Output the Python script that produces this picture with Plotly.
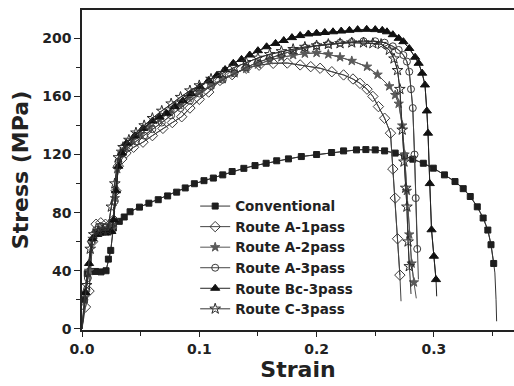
import plotly.graph_objects as go

# ---------------- data ----------------
conv_strain = [0, 0.002, 0.0045, 0.0068, 0.0115, 0.0162, 0.0205, 0.0225, 0.0245, 0.0267,
               0.0318, 0.036, 0.041, 0.049, 0.057, 0.065, 0.073, 0.0807, 0.088, 0.0958,
               0.104, 0.112, 0.120, 0.128, 0.138, 0.1475, 0.157, 0.166, 0.176, 0.187,
               0.200, 0.2128, 0.223, 0.234, 0.242, 0.250, 0.258, 0.267, 0.275, 0.282,
               0.291, 0.2995, 0.309, 0.318, 0.325, 0.331, 0.337, 0.342, 0.346, 0.3487,
               0.351, 0.352, 0.353, 0.3535]
conv_stress = [0, 20, 38, 39.4, 39.5, 39.2, 40, 48, 54, 69.4,
               74, 77, 80.6, 83.8, 86.5, 88.9, 91.5, 94.1, 97, 99.9,
               102, 103.8, 106, 108.3, 110.5, 112.4, 114, 115.7, 117, 118.6,
               120, 121.4, 122.5, 123.2, 123.4, 123.2, 122.5, 121, 119, 116.8,
               114, 110.6, 106, 101.4, 96.5, 91.1, 84, 76.3, 68, 57.9,
               45, 38.5, 20, 5.2]

a1_strain = [0, 0.003, 0.006, 0.009, 0.012, 0.016, 0.02, 0.024, 0.027, 0.029, 0.031, 0.034,
             0.0375, 0.044, 0.052, 0.06, 0.069, 0.077, 0.085, 0.092, 0.1, 0.108, 0.1176,
             0.128, 0.14, 0.151, 0.163, 0.175, 0.186, 0.195, 0.203, 0.213, 0.223, 0.231,
             0.237, 0.243, 0.248, 0.2527, 0.258, 0.263, 0.265, 0.267, 0.269, 0.271, 0.272]
a1_stress = [0, 15, 26, 60, 72, 73, 72, 72, 75, 95, 112, 117,
             121, 125, 128.5, 133, 138, 142, 146, 152, 158, 163, 171,
             175, 179.4, 181.5, 182.8, 183, 181.7, 180.5, 179.4, 177, 174.8, 172,
             169, 165, 160, 153, 145, 134.7, 110, 90, 62, 37, 19]

a2_strain = [0, 0.003, 0.006, 0.009, 0.012, 0.016, 0.02, 0.024, 0.026, 0.028, 0.03, 0.033,
             0.037, 0.043, 0.05, 0.058, 0.066, 0.075, 0.083, 0.091, 0.1, 0.11, 0.12, 0.13,
             0.14, 0.15, 0.16, 0.17, 0.18, 0.19, 0.2, 0.21, 0.22, 0.23, 0.243, 0.252,
             0.262, 0.267, 0.27, 0.273, 0.275, 0.277, 0.279, 0.281, 0.283, 0.285]
a2_stress = [0, 25, 40, 62, 66, 67, 67, 68, 69, 90, 110, 122,
             126, 130, 134, 139, 144, 149, 154, 159, 163, 168, 172, 176,
             179, 182, 185, 187, 188.5, 189.5, 190, 189, 187, 184.5, 180.5, 175,
             167, 161, 155, 140, 120, 95, 65, 45, 32, 21]

a3_strain = [0, 0.002, 0.005, 0.008, 0.012, 0.016, 0.02, 0.024, 0.026, 0.028, 0.031, 0.035,
             0.04, 0.046, 0.053, 0.06, 0.068, 0.076, 0.084, 0.092, 0.1, 0.11, 0.12, 0.13,
             0.14, 0.15, 0.16, 0.17, 0.18, 0.19, 0.2, 0.21, 0.22, 0.23, 0.24, 0.25,
             0.258, 0.265, 0.27, 0.274, 0.277, 0.279, 0.2805, 0.282, 0.2835, 0.2845,
             0.2858, 0.2868]
a3_stress = [0, 20, 35, 60, 68, 70, 70, 71, 72, 88, 115, 121,
             125, 129, 133, 137.5, 142, 147, 152, 157, 162, 167, 171.5, 176,
             180, 183.5, 186.5, 189, 191.5, 193.5, 195, 196, 197, 197.5, 198, 198,
             197, 194.5, 192, 188.5, 184, 177, 165, 152, 120, 90,
             55, 34]

bc_strain = [0, 0.003, 0.006, 0.009, 0.013, 0.017, 0.021, 0.025, 0.027, 0.029, 0.031, 0.034,
             0.038, 0.045, 0.052, 0.06, 0.066, 0.072, 0.079, 0.086, 0.093, 0.1006, 0.108,
             0.115, 0.122, 0.129, 0.136, 0.143, 0.15, 0.1574, 0.165, 0.172, 0.179, 0.186,
             0.193, 0.2, 0.207, 0.214, 0.221, 0.228, 0.235, 0.2427, 0.25, 0.256, 0.26,
             0.265, 0.27, 0.274, 0.279, 0.284, 0.287, 0.29, 0.2924, 0.294, 0.295, 0.2965,
             0.298, 0.300, 0.3018, 0.3024]
bc_stress = [0, 25, 45, 62, 65, 66, 66, 67, 75, 95, 112, 121,
             127.8, 133, 138, 143, 146, 148.4, 153, 157, 162, 166.7, 171,
             174.5, 178.5, 182.8, 185.5, 188.5, 191.5, 194.2, 196.5, 198.5, 200.5, 201.9,
             203, 203.5, 204, 204.5, 205, 205.5, 206, 206.2, 206, 205.5, 204.5,
             202.5, 200, 197.7, 193, 187, 182.8, 176, 167.9, 150, 134.7, 100,
             68.2, 50, 33.9, 22.4]

c3_strain = [0, 0.004, 0.007, 0.01, 0.014, 0.018, 0.022, 0.025, 0.028, 0.031, 0.035, 0.04,
             0.046, 0.053, 0.06, 0.068, 0.076, 0.084, 0.092, 0.1, 0.11, 0.12, 0.13, 0.14,
             0.15, 0.16, 0.17, 0.18, 0.19, 0.2, 0.21, 0.22, 0.23, 0.24, 0.248, 0.255,
             0.262, 0.266, 0.269, 0.271, 0.273, 0.2745, 0.276, 0.277, 0.278, 0.279, 0.2805]
c3_stress = [0, 30, 55, 65, 67, 68, 68, 84, 100, 118, 125, 130,
             135, 140, 145, 150, 155, 159.5, 164, 167.5, 172, 176, 180, 183.5,
             186.5, 189, 191, 192.5, 194, 195, 196, 196.5, 197, 197, 196.5, 196,
             192, 186, 178, 165, 137, 115, 97, 84, 60, 43, 24]

series = [
    ("Conventional", conv_strain, conv_stress),
    ("Route A-1pass", a1_strain, a1_stress),
    ("Route A-2pass", a2_strain, a2_stress),
    ("Route A-3pass", a3_strain, a3_stress),
    ("Route Bc-3pass", bc_strain, bc_stress),
    ("Route C-3pass", c3_strain, c3_stress),
]

styles = {
    "Conventional": dict(symbol="square", color="#1e1e1e", size=6, line="#333333", tail=3),
    "Route A-1pass": dict(symbol="diamond-open", color="#3a3a3a", size=8, line="#444444", tail=1),
    "Route A-2pass": dict(symbol="star", color="#5a5a5a", size=7, line="#555555", tail=1),
    "Route A-3pass": dict(symbol="circle-open", color="#3a3a3a", size=7, line="#444444", tail=1),
    "Route Bc-3pass": dict(symbol="triangle-up", color="#111111", size=8, line="#222222", tail=1),
    "Route C-3pass": dict(symbol="star-open", color="#2a2a2a", size=8, line="#333333", tail=1),
}

fig = go.Figure()
for name, xs, ys in series:
    st = styles[name]
    n = len(xs)
    # full curve as a plain line (no legend entry)
    fig.add_trace(go.Scatter(
        x=xs, y=ys, mode="lines", showlegend=False, hoverinfo="skip",
        line=dict(color=st["line"], width=1),
    ))
    # marked part of the curve (legend entry)
    fig.add_trace(go.Scatter(
        x=xs[1:n - st["tail"]], y=ys[1:n - st["tail"]], name=name, mode="lines+markers",
        line=dict(color=st["line"], width=1),
        marker=dict(symbol=st["symbol"], color=st["color"], size=st["size"],
                    line=dict(color=st["color"], width=1)),
    ))

font_bold = dict(family="DejaVu Sans", weight="bold", color="#222222")

fig.update_layout(
    width=514, height=386,
    margin=dict(l=82, r=0, t=10, b=56),
    paper_bgcolor="white", plot_bgcolor="white",
    showlegend=True,
    legend=dict(x=0.262, y=0.435, xanchor="left", yanchor="top",
                bgcolor="rgba(0,0,0,0)", borderwidth=0,
                font=dict(size=13.5, **font_bold), itemwidth=30,
                tracegroupgap=0),
)
fig.update_xaxes(
    range=[0, 0.3683], tickvals=[0.0, 0.1, 0.2, 0.3],
    ticktext=["0.0", "0.1", "0.2", "0.3"],
    ticks="outside", ticklen=5, tickwidth=1.3, tickcolor="#222",
    minor=dict(dtick=0.05, tick0=0, ticks="outside", ticklen=4, tickwidth=1.2, tickcolor="#222"),
    showline=True, linecolor="#222", linewidth=1.5, mirror=True,
    showgrid=False, zeroline=False,
    tickfont=dict(size=14, **font_bold),
    title=dict(text="Strain", font=dict(size=22, **font_bold), standoff=4),
)
fig.update_yaxes(
    range=[-0.8, 219.5], tickvals=[0, 40, 80, 120, 160, 200],
    ticks="outside", ticklen=6, tickwidth=1.3, tickcolor="#222",
    minor=dict(dtick=20, tick0=0, ticks="outside", ticklen=4, tickwidth=1.2, tickcolor="#222"),
    showline=True, linecolor="#222", linewidth=1.5,
    showgrid=False, zeroline=False,
    tickfont=dict(size=14, **font_bold),
    title=dict(text="Stress (MPa)", font=dict(size=22, **font_bold), standoff=8),
)

fig.write_html("out.html")
